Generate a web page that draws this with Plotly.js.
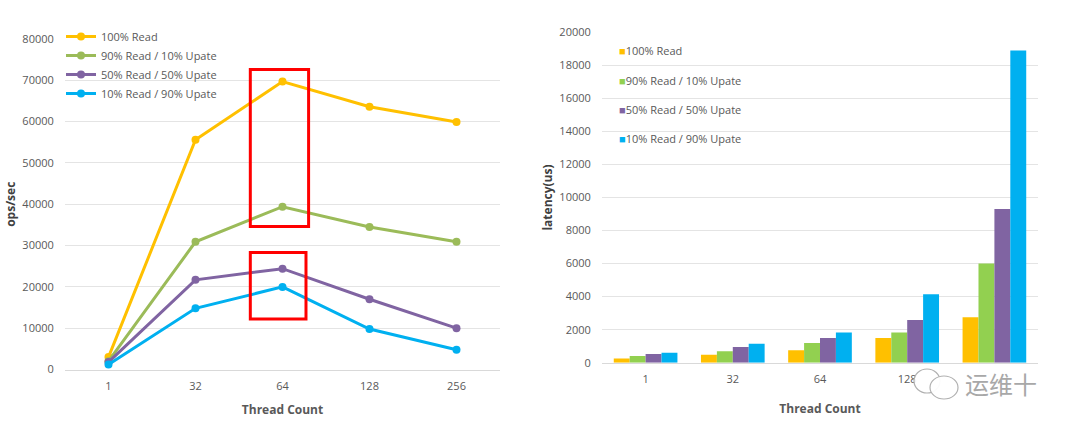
<!DOCTYPE html>
<html>
<head>
<meta charset="utf-8">
<script src="https://cdn.plot.ly/plotly-3.0.1.min.js"></script>
<style>html,body{margin:0;padding:0;background:#fff;}#chart{width:1080px;height:431px;}</style>
</head>
<body>
<div id="chart"></div>
<script>
// ---- data ----
const threadCounts = ["1", "32", "64", "128", "256"];
const seriesNames = ["100% Read", "90% Read / 10% Upate", "50% Read / 50% Upate", "10% Read / 90% Upate"];
// throughput (ops/sec)
const opsRead100 = [3000, 55600, 69700, 63600, 59900];
const opsRead90 = [2000, 30900, 39400, 34500, 30900];
const opsRead50 = [1800, 21700, 24400, 17000, 10000];
const opsRead10 = [1200, 14800, 20000, 9800, 4800];
// latency (us)
const latRead100 = [250, 480, 750, 1500, 2750];
const latRead90 = [400, 700, 1200, 1830, 6000];
const latRead50 = [530, 950, 1500, 2580, 9300];
const latRead10 = [600, 1150, 1830, 4150, 18900];

const lineColors = ["#FFC000", "#9BBB59", "#8064A2", "#00B0F0"];
const barColors = ["#FFC000", "#92D050", "#8064A2", "#00B0F0"];
const opsSeries = [opsRead100, opsRead90, opsRead50, opsRead10];
const latSeries = [latRead100, latRead90, latRead50, latRead10];

const font = "Open Sans, Liberation Sans, sans-serif";
const tickColor = "#595959";
const gridColor = "#E4E4E4";

const traces = [];
opsSeries.forEach((ys, i) => {
  traces.push({
    type: "scatter", mode: "lines+markers", x: threadCounts, y: ys,
    name: seriesNames[i], xaxis: "x", yaxis: "y", legend: "legend",
    line: {color: lineColors[i], width: 3}, marker: {color: lineColors[i], size: 8}
  });
});
latSeries.forEach((ys, i) => {
  traces.push({
    type: "bar", x: threadCounts, y: ys, name: seriesNames[i],
    xaxis: "x2", yaxis: "y2", showlegend: false,
    marker: {color: barColors[i]}
  });
});

const H = 431, W = 1080;
const px = v => v / W;
const py = v => 1 - v / H;

const axisX = (domain, anchor, standoff) => ({
  type: "category", domain: domain, anchor: anchor, range: [-0.5, 4.5],
  showgrid: false, zeroline: false, showline: true, linecolor: "#D9D9D9", linewidth: 1,
  ticks: "outside", ticklen: 6, tickcolor: "rgba(0,0,0,0)",
  tickfont: {family: font, size: 11, color: tickColor},
  title: {text: "Thread Count", font: {family: font, size: 12, color: tickColor, weight: "bold"}, standoff: standoff},
  fixedrange: true
});
const axisY = (domain, anchor, range, dtick, title) => ({
  domain: domain, anchor: anchor, range: range, dtick: dtick, tickformat: "d",
  showgrid: true, gridcolor: gridColor, gridwidth: 1, zeroline: false, showline: false,
  ticks: "outside", ticklen: 8, tickcolor: "rgba(0,0,0,0)",
  tickfont: {family: font, size: 11, color: tickColor},
  title: {text: title, font: {family: font, size: 12, color: "#404040", weight: "bold"}, standoff: 4},
  fixedrange: true
});

// bar legend built from names/colours as annotations (small squares)
const barLegend = seriesNames.map((n, i) => ({
  xref: "paper", yref: "paper", x: px(617), y: py(51 + 29 * i), xanchor: "left", yanchor: "middle",
  text: '<span style="color:' + barColors[i] + '">■</span>' + n, showarrow: false,
  font: {family: font, size: 11, color: tickColor}
}));

const layout = {
  width: W, height: H,
  margin: {l: 0, r: 0, t: 0, b: 0},
  paper_bgcolor: "#fff", plot_bgcolor: "#fff",
  showlegend: true,
  bargap: 0.27, bargroupgap: 0, barmode: "group",
  xaxis: axisX([px(65), px(500)], "y", 13),
  yaxis: axisY([py(369.5), py(39)], "x", [0, 80000], 10000, "ops/sec"),
  xaxis2: axisX([px(602), px(1038)], "y2", 19),
  yaxis2: axisY([py(362.7), py(32.3)], "x2", [0, 20000], 2000, "latency(us)"),
  legend: {
    x: px(61), y: py(22), xanchor: "left", yanchor: "top",
    bgcolor: "rgba(0,0,0,0)", font: {family: font, size: 11, color: tickColor},
    itemwidth: 30, tracegroupgap: 0
  },
  shapes: [
    {type: "rect", xref: "x", yref: "y", x0: 1.63, x1: 2.3, y0: 34600, y1: 72600,
     line: {color: "#FF0000", width: 3}, fillcolor: "rgba(0,0,0,0)"},
    {type: "rect", xref: "x", yref: "y", x0: 1.63, x1: 2.27, y0: 12200, y1: 28300,
     line: {color: "#FF0000", width: 3}, fillcolor: "rgba(0,0,0,0)"},
    // watermark icon (two speech bubbles)
    {type: "circle", xref: "paper", yref: "paper", x0: px(914), x1: px(940), y0: py(393), y1: py(369),
     line: {color: "#B0B0B0", width: 1.2}, fillcolor: "rgba(255,255,255,0.9)", layer: "above"},
    {type: "circle", xref: "paper", yref: "paper", x0: px(930), x1: px(958), y0: py(399), y1: py(376),
     line: {color: "#B0B0B0", width: 1.2}, fillcolor: "rgba(255,255,255,0.95)", layer: "above"}
  ],
  annotations: barLegend.concat([
    {xref: "paper", yref: "paper", x: px(963), y: py(383), xanchor: "left", yanchor: "middle",
     text: "运维十", showarrow: false, bgcolor: "#FFFFFF",
     font: {family: "Noto Sans CJK SC", size: 24, color: "#A8A8A8"}}
  ])
};

Plotly.newPlot("chart", traces, layout, {displayModeBar: false, staticPlot: true});
</script>
</body>
</html>
